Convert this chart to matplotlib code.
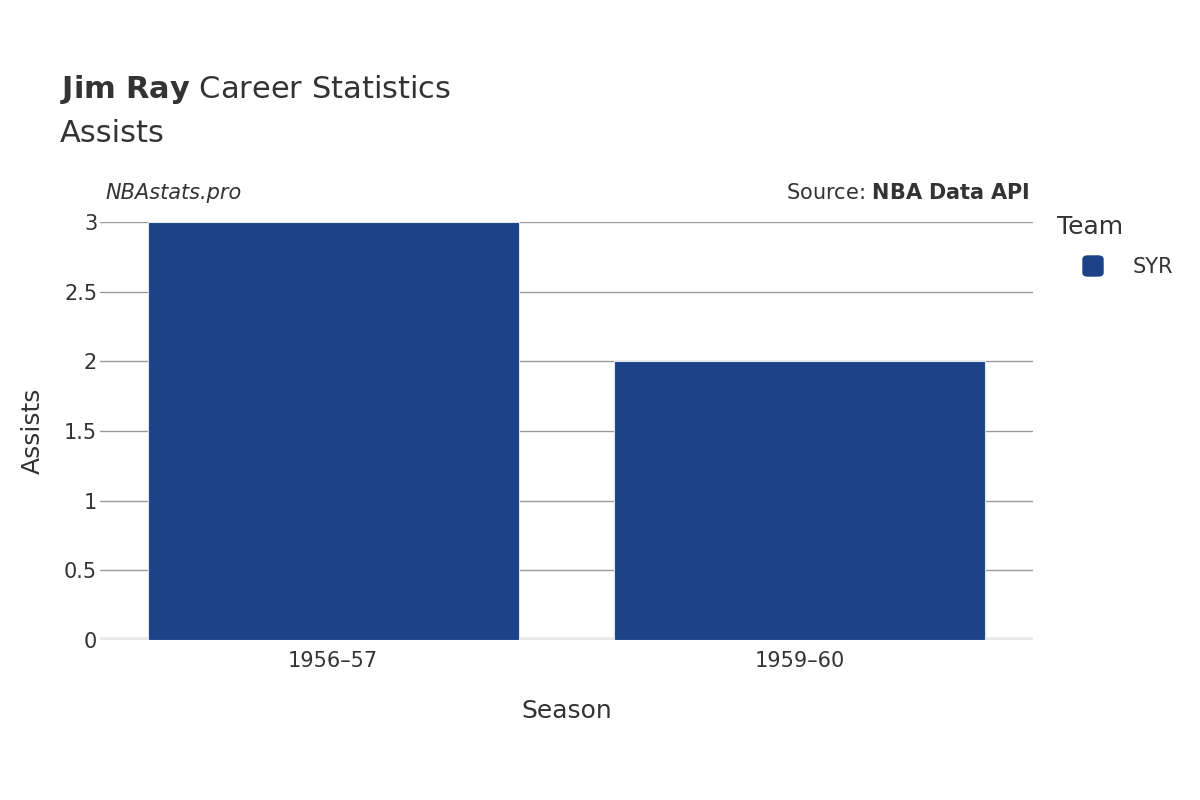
import matplotlib
matplotlib.use("Agg")
import matplotlib.pyplot as plt

seasons = ["1956–57", "1959–60"]
assists = [3, 2]
team = "SYR"
color = "#1c4387"
yticks = [0, 0.5, 1, 1.5, 2, 2.5, 3]
yticklabels = ["0", "0.5", "1", "1.5", "2", "2.5", "3"]

fig = plt.figure(figsize=(12, 8), dpi=100)
ax = fig.add_axes([100/1200, 0.2, 933/1200, 418/800])
x = range(len(seasons))
ax.bar(x, assists, width=0.795, color=color, edgecolor="#dde3ee", linewidth=0.8, label=team, zorder=3)
ax.set_xlim(-0.5, len(seasons) - 0.5)
ax.set_ylim(0, 3)
ax.set_yticks(yticks)
ax.set_yticklabels(yticklabels)
ax.set_xticks(list(x))
ax.set_xticklabels(seasons)
ax.grid(axis="y", color="#999999", linewidth=1, zorder=0)
ax.axhline(0, color="#e8e8e8", linewidth=4, zorder=2)
for s in ax.spines.values():
    s.set_visible(False)
ax.tick_params(axis="both", length=0, labelsize=15, colors="#333333", pad=8)
ax.tick_params(axis="y", pad=2)
ax.set_xlabel("Season", fontsize=18, color="#333333", labelpad=20)
ax.set_ylabel("Assists", fontsize=18, color="#333333", labelpad=14)

fig.text(60/1200, 1-90/800, r"$\bf{Jim\ Ray}$ Career Statistics", fontsize=22, color="#333333", va="center")
fig.text(60/1200, 1-133/800, "Assists", fontsize=22, color="#333333", va="center")
fig.text(105/1200, 1-193/800, "NBAstats.pro", fontsize=15, style="italic", color="#333333", va="center")
fig.text(1030/1200, 1-193/800, r"Source: $\bf{NBA\ Data\ API}$", fontsize=15, color="#333333", va="center", ha="right")

fig.text(1057/1200, 1-227/800, "Team", fontsize=18, color="#333333", va="center")
from matplotlib.patches import FancyBboxPatch
fig.patches.append(FancyBboxPatch((1083/1200, 1-276/800), 20/1200, 20/800,
    boxstyle="round,pad=0,rounding_size=0.004", transform=fig.transFigure, color=color))
fig.text(1133/1200, 1-267/800, team, fontsize=15, color="#333333", va="center")

fig.savefig("out.png")
